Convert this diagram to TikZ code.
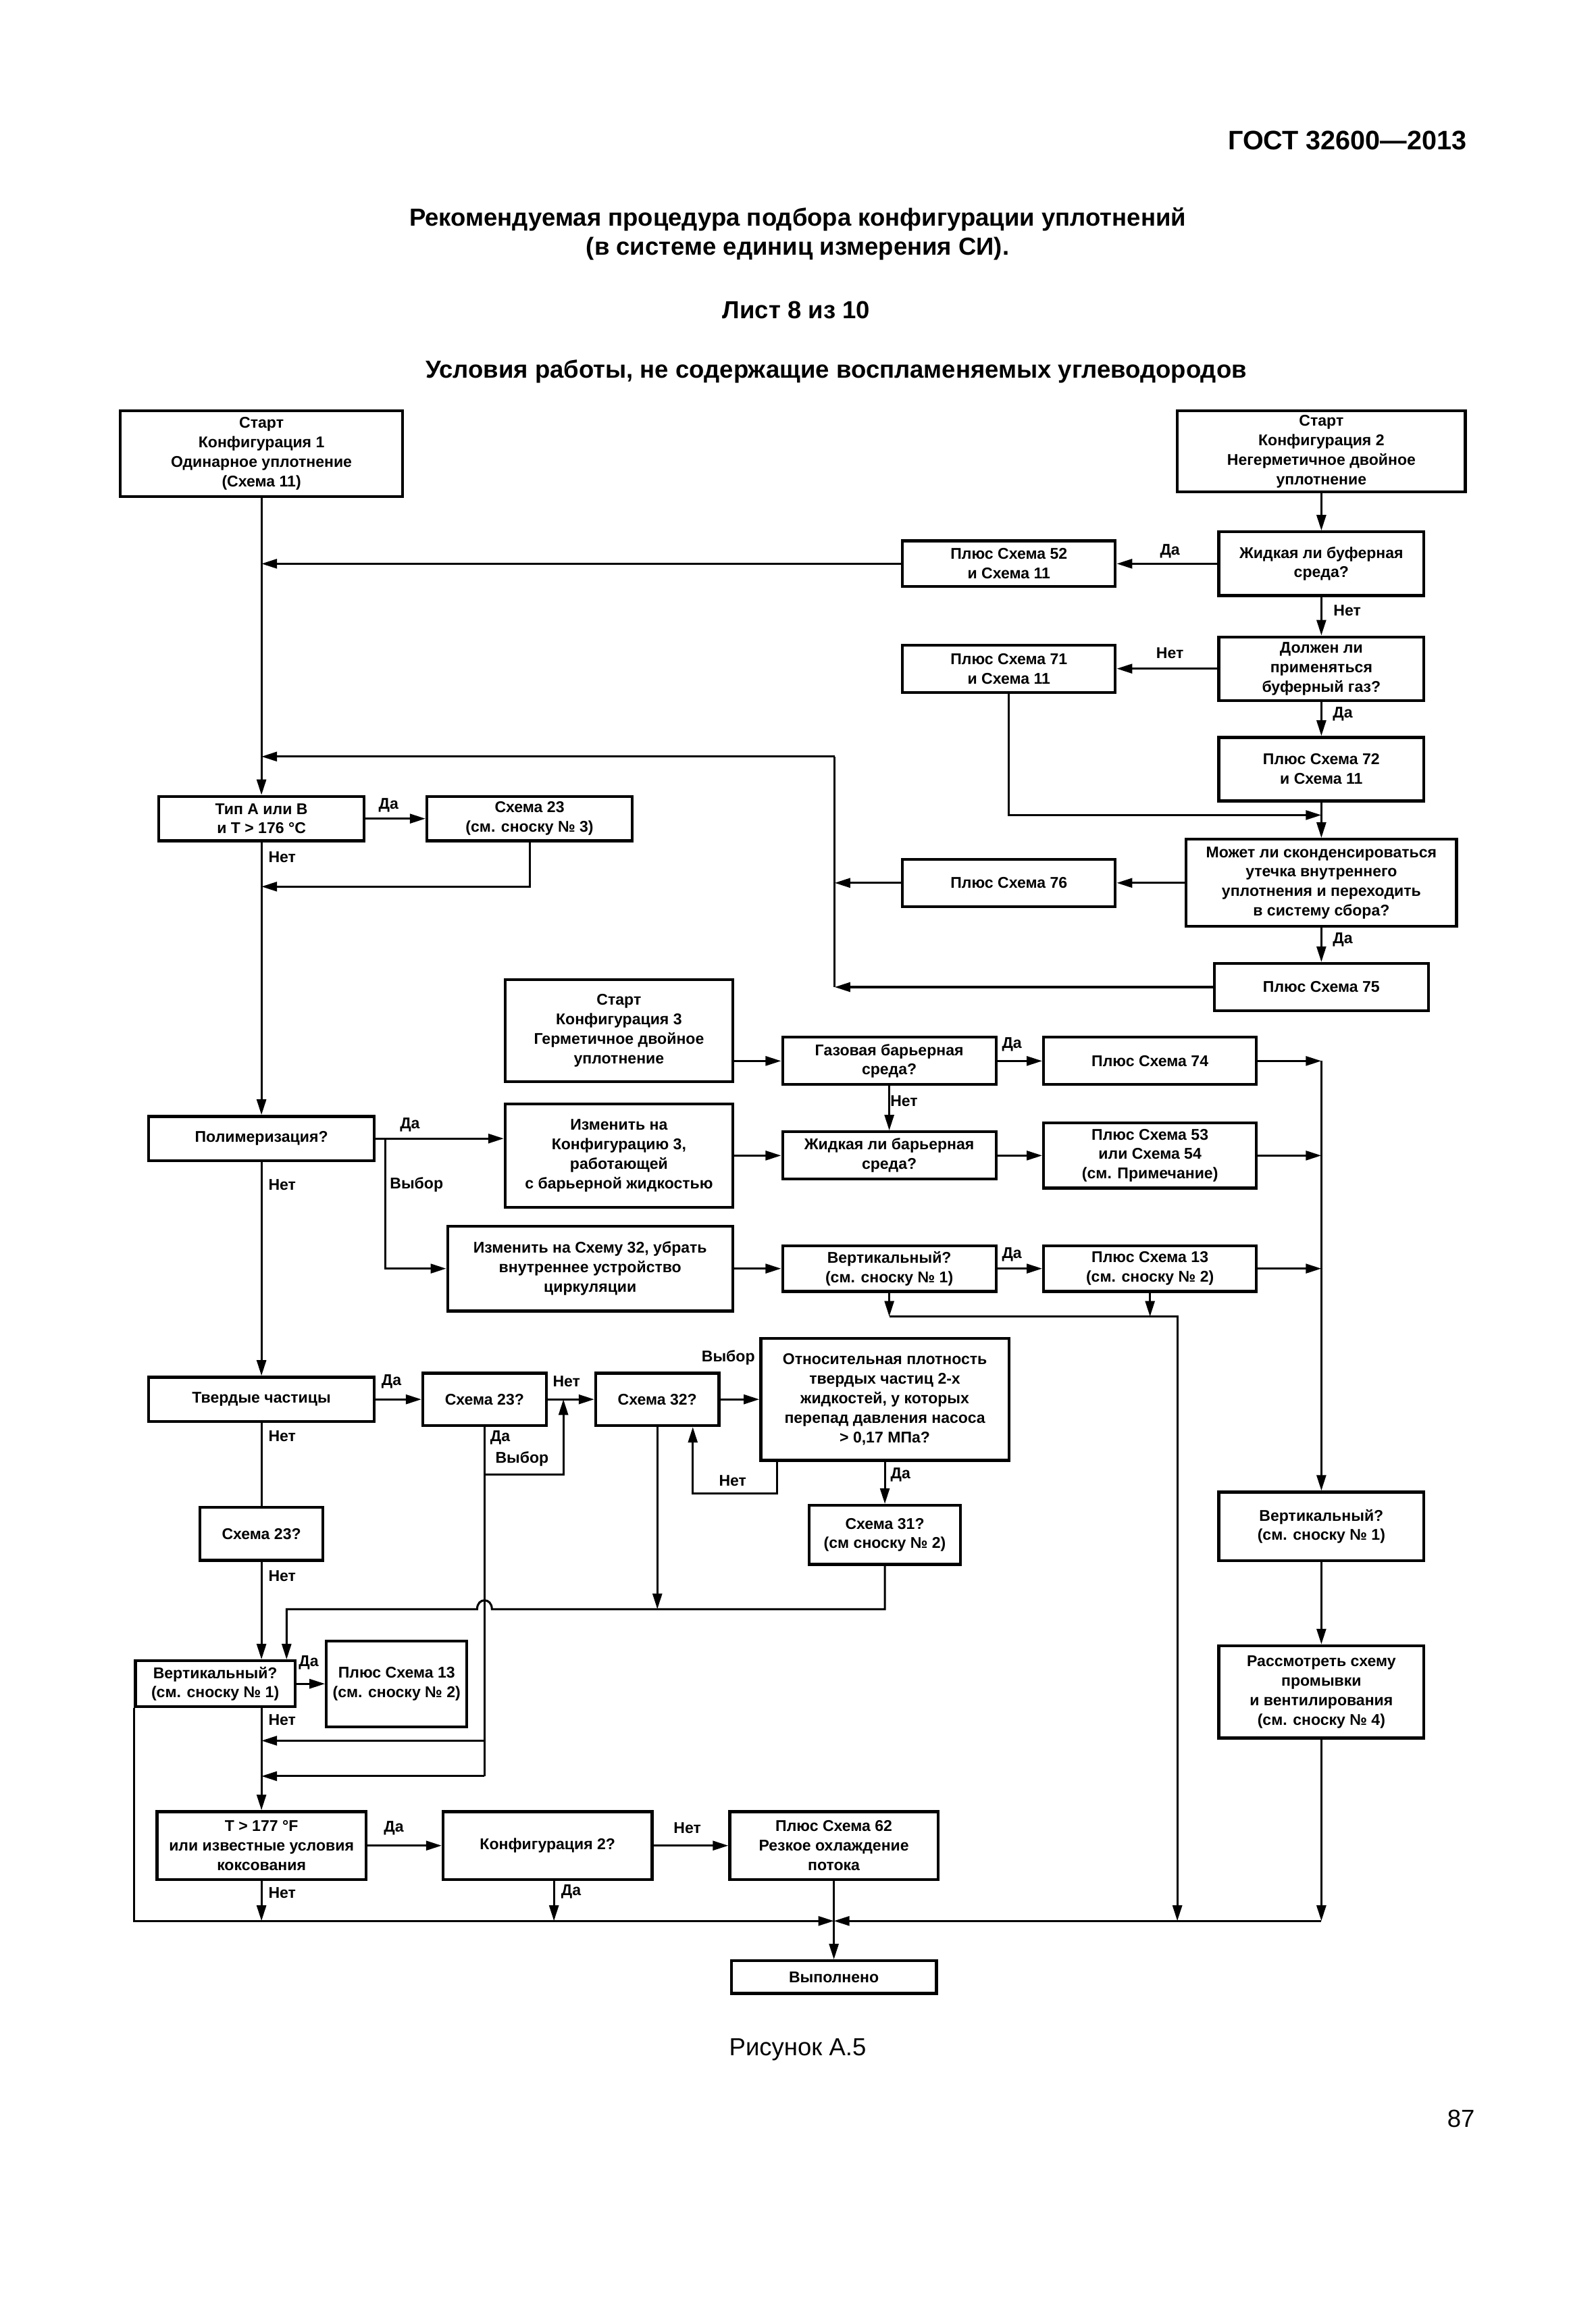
\documentclass[tikz,border=0pt]{standalone}
\usepackage{fontspec}
\setmainfont{Liberation Sans}
\usetikzlibrary{positioning,arrows,arrows.meta}
\newcommand{\flowfont}{\fontsize{6}{7.5}\selectfont\bfseries}

\begin{document}
\begin{tikzpicture}
[x=0.02cm, y=-0.02cm,
% The box style is used to draw the steps and the questions of the procedure
box/.style={rectangle, draw, line width=1.1pt, inner sep=1pt, align=center, font=\flowfont},
% The answer style is used to write Да, Нет and Выбор beside the connectors
answer/.style={inner sep=0pt, font=\flowfont},
% The line and arr styles are used to draw the connectors
line/.style={line width=0.8pt},
arr/.style={line width=0.8pt, -{Triangle[length=6pt,width=3.6pt]}}
]
\useasboundingbox (0,0) rectangle (1080,1566);
% Draw headings
\node[anchor=east, font=\fontsize{10.3}{12}\selectfont\bfseries] (gost) at (999,95) {ГОСТ 32600—2013};
\node[align=center, font=\fontsize{9.5}{11}\selectfont\bfseries] (title) at (540,158.3) {Рекомендуемая процедура подбора конфигурации уплотнений\\(в системе единиц измерения СИ).};
\node[font=\fontsize{9.5}{11}\selectfont\bfseries] (sheet) at (539,210) {Лист 8 из 10};
\node[font=\fontsize{9.5}{11}\selectfont\bfseries] (cond) at (566,251.5) {Условия работы, не содержащие воспламеняемых углеводородов};
\node[font=\fontsize{9.5}{11}\selectfont] (fig) at (540,1387) {Рисунок А.5};
\node[font=\fontsize{9.5}{11}\selectfont] (page) at (989,1434) {87};

% Draw boxes of configuration 1 and 2
\node[box, minimum width=3.82cm, minimum height=1.16cm] (start1) at (177,307) {Старт\\Конфигурация 1\\Одинарное уплотнение\\(Схема 11)};
\node[box, minimum width=3.9cm, minimum height=1.1cm] (start2) at (894.5,305.5) {Старт\\Конфигурация 2\\Негерметичное двойное\\уплотнение};
\node[box, minimum width=2.78cm, minimum height=0.86cm] (qbufliq) at (894.5,381.5) {Жидкая ли буферная\\среда?};
\node[box, minimum width=2.88cm, minimum height=0.62cm] (plus52) at (683,381.5) {Плюс Схема 52\\и Схема 11};
\node[box, minimum width=2.78cm, minimum height=0.86cm] (qbufgas) at (894.5,452.5) {Должен ли\\применяться\\буферный газ?};
\node[box, minimum width=2.88cm, minimum height=0.64cm] (plus71) at (683,452.5) {Плюс Схема 71\\и Схема 11};
\node[box, minimum width=2.78cm, minimum height=0.86cm] (plus72) at (894.5,520.5) {Плюс Схема 72\\и Схема 11};
\node[box, minimum width=3.66cm, minimum height=1.18cm] (qcond) at (894.5,597.5) {Может ли сконденсироваться\\утечка внутреннего\\уплотнения и переходить\\в систему сбора?};
\node[box, minimum width=2.88cm, minimum height=0.64cm] (plus76) at (683,597.5) {Плюс Схема 76};
\node[box, minimum width=2.9cm, minimum height=0.64cm] (plus75) at (894.5,668) {Плюс Схема 75};
\node[box, minimum width=2.78cm, minimum height=0.6cm] (typeab) at (177,554) {Тип А или В\\и Т > 176 °С};
\node[box, minimum width=2.78cm, minimum height=0.6cm] (s23a) at (358.5,554) {Схема 23\\(см. сноску № 3)};

% Draw boxes of configuration 3
\node[box, minimum width=3.08cm, minimum height=1.38cm] (start3) at (419,697.5) {Старт\\Конфигурация 3\\Герметичное двойное\\уплотнение};
\node[box, minimum width=2.89cm, minimum height=0.64cm] (qgasbar) at (602,718) {Газовая барьерная\\среда?};
\node[box, minimum width=2.88cm, minimum height=0.64cm] (plus74) at (778.5,718) {Плюс Схема 74};
\node[box, minimum width=3.08cm, minimum height=1.4cm] (change3) at (419,782) {Изменить на\\Конфигурацию 3,\\работающей\\с барьерной жидкостью};
\node[box, minimum width=2.89cm, minimum height=0.64cm] (qliqbar) at (602,782) {Жидкая ли барьерная\\среда?};
\node[box, minimum width=2.88cm, minimum height=0.88cm] (plus53) at (778.5,782) {Плюс Схема 53\\или Схема 54\\(см. Примечание)};
\node[box, minimum width=3.05cm, minimum height=0.6cm] (polym) at (177,770.5) {Полимеризация?};
\node[box, minimum width=3.86cm, minimum height=1.15cm] (change32) at (399.5,858.5) {Изменить на Схему 32, убрать\\внутреннее устройство\\циркуляции};
\node[box, minimum width=2.89cm, minimum height=0.62cm] (qvert1) at (602,858.5) {Вертикальный?\\(см. сноску № 1)};
\node[box, minimum width=2.88cm, minimum height=0.62cm] (plus13a) at (778.5,858.5) {Плюс Схема 13\\(см. сноску № 2)};

% Draw boxes of solid particles
\node[box, minimum width=3.05cm, minimum height=0.6cm] (solidp) at (177,947) {Твердые частицы};
\node[box, minimum width=1.67cm, minimum height=0.71cm] (q23b) at (328,947) {Схема 23?};
\node[box, minimum width=1.67cm, minimum height=0.71cm] (q32) at (445,947) {Схема 32?};
\node[box, minimum width=3.36cm, minimum height=1.65cm] (qdens) at (599,947) {Относительная плотность\\твердых частиц 2-х\\жидкостей, у которых\\перепад давления насоса\\> 0,17 МПа?};
\node[box, minimum width=2.05cm, minimum height=0.8cm] (q31) at (599,1038.7) {Схема 31?\\(см сноску № 2)};
\node[box, minimum width=1.66cm, minimum height=0.72cm] (s23c) at (177,1038) {Схема 23?};
\node[box, minimum width=2.16cm, minimum height=0.62cm] (vertb) at (145.7,1139.5) {Вертикальный?\\(см. сноску № 1)};
\node[box, minimum width=1.9cm, minimum height=1.16cm] (plus13b) at (268.5,1139.5) {Плюс Схема 13\\(см. сноску № 2)};
\node[box, minimum width=2.83cm, minimum height=0.92cm] (tempq) at (177,1249) {Т > 177 °F\\или известные условия\\коксования};
\node[box, minimum width=2.83cm, minimum height=0.92cm] (conf2q) at (370.7,1249) {Конфигурация 2?};
\node[box, minimum width=2.82cm, minimum height=0.92cm] (plus62) at (564.5,1249) {Плюс Схема 62\\Резкое охлаждение\\потока};
\node[box, minimum width=2.78cm, minimum height=0.44cm] (done) at (564.5,1338) {Выполнено};
\node[box, minimum width=2.78cm, minimum height=0.93cm] (vert2) at (894.5,1033) {Вертикальный?\\(см. сноску № 1)};
\node[box, minimum width=2.78cm, minimum height=1.25cm] (consider) at (894.5,1145) {Рассмотреть схему\\промывки\\и вентилирования\\(см. сноску № 4)};

% Junctions of the connectors
\coordinate (m72) at (894.5,551.6);
\coordinate (ctop) at (565,512);
\coordinate (cbot) at (565,668);
\coordinate (c76) at (565,597.5);
\coordinate (j600) at (177,600);
\coordinate (c74) at (894.5,718);
\coordinate (c53) at (894.5,782);
\coordinate (c13) at (894.5,858.5);
\coordinate (vy) at (260.7,770.5);
\coordinate (h891) at (602,891);
\coordinate (r891) at (797,891);
\coordinate (b797) at (797,1300);
\coordinate (d998) at (328,998);
\coordinate (u998) at (381.4,998);
\coordinate (dn1) at (526,1010.6);
\coordinate (dn2) at (469,1010.6);
\coordinate (q31b) at (599,1089);
\coordinate (hopr) at (333,1089);
\coordinate (hopl) at (323,1089);
\coordinate (cvb) at (194,1089);
\coordinate (q32b) at (445,1089);
\coordinate (v23a) at (328,1178);
\coordinate (v23) at (328,1202);
\coordinate (bc) at (564.5,1300);
\coordinate (br) at (894.5,1300);
\coordinate (t1300) at (177,1300);
\coordinate (c1300) at (375,1300);

% Draw connectors of configuration 1 and 2
\draw[arr] (start1.south) -- (typeab.north);
\draw[arr] (start2.south) -- (qbufliq.north);
\draw[arr] (qbufliq.west) -- (plus52.east);
\draw[arr] (plus52.west) -- (plus52.west -| start1.south);
\draw[arr] (qbufliq.south) -- (qbufgas.north);
\draw[arr] (qbufgas.west) -- (plus71.east);
\draw[arr] (qbufgas.south) -- (plus72.north);
\draw[arr] (plus71.south) |- (m72);
\draw[arr] (plus72.south) -- (qcond.north);
\draw[arr] (qcond.west) -- (plus76.east);
\draw[arr] (plus76.west) -- (c76);
\draw[arr] (qcond.south) -- (plus75.north);
\draw[arr] (plus75.west) -- (cbot);
\draw[line] (cbot) -- (ctop);
\draw[arr] (ctop) -- (ctop -| start1.south);
\draw[arr] (typeab.east) -- (s23a.west);
\draw[arr] (s23a.south) |- (j600);
\draw[arr] (typeab.south) -- (polym.north);

% Draw connectors of configuration 3
\draw[arr] (qgasbar.west -| start3.east) -- (qgasbar.west);
\draw[arr] (qgasbar.east) -- (plus74.west);
\draw[arr] (plus74.east) -- (c74);
\draw[arr] (c74) -- (vert2.north);
\draw[arr] (qgasbar.south) -- (qliqbar.north);
\draw[arr] (change3.east) -- (qliqbar.west);
\draw[arr] (qliqbar.east) -- (plus53.west);
\draw[arr] (plus53.east) -- (c53);
\draw[arr] (polym.east) -- (polym.east -| change3.west);
\draw[arr] (vy) |- (change32.west);
\draw[arr] (change32.east) -- (qvert1.west);
\draw[arr] (qvert1.east) -- (plus13a.west);
\draw[arr] (plus13a.east) -- (c13);
\draw[arr] (qvert1.south) -- (h891);
\draw[arr] (plus13a.south) -- (plus13a.south |- h891);
\draw[arr] (h891) -- (r891) -- (b797);

% Draw connectors of solid particles
\draw[arr] (polym.south) -- (solidp.north);
\draw[arr] (solidp.east) -- (q23b.west);
\draw[arr] (q23b.east) -- (q32.west);
\draw[arr] (q32.east) -- (qdens.west);
\draw[line] (q23b.south) -- (v23);
\draw[arr] (d998) -- (u998) -- (u998 |- q23b.east);
\draw[arr] (v23a) -- (v23a -| solidp.south);
\draw[arr] (v23) -- (v23 -| solidp.south);
\draw[arr] (qdens.south -| dn1) -- (dn1) -- (dn2) -- (dn2 |- q32.south);
\draw[arr] (qdens.south) -- (q31.north);
\draw[arr] (q31.south) -- (q31b) -- (hopr) .. controls (333,1081) and (323,1081) .. (hopl) -- (cvb) -- (cvb |- vertb.north);
\draw[arr] (q32.south) -- (q32b);
\draw[line] (solidp.south) -- (s23c.north);
\draw[arr] (s23c.south) -- (s23c.south |- vertb.north);
\draw[arr] (vertb.east) -- (plus13b.west);
\draw[arr] (vertb.south -| tempq.north) -- (tempq.north);
\draw[arr] (vertb.south west) |- (bc);
\draw[arr] (tempq.east) -- (conf2q.west);
\draw[arr] (conf2q.east) -- (plus62.west);
\draw[arr] (tempq.south) -- (t1300);
\draw[arr] (conf2q.south -| c1300) -- (c1300);
\draw[arr] (br) -- (bc);
\draw[arr] (plus62.south) -- (done.north);
\draw[arr] (vert2.south) -- (consider.north);
\draw[arr] (consider.south) -- (br);

% Draw answers
\node[answer] (a1) at (792,373) {Да};
\node[answer] (a2) at (912,413) {Нет};
\node[answer] (a3) at (792,442) {Нет};
\node[answer] (a4) at (909,483) {Да};
\node[answer] (a5) at (909,636) {Да};
\node[answer] (a6) at (263,545) {Да};
\node[answer] (a7) at (191,580) {Нет};
\node[answer] (a8) at (685,707) {Да};
\node[answer] (a9) at (612,745) {Нет};
\node[answer] (a10) at (277.5,761) {Да};
\node[answer] (a11) at (282,801.6) {Выбор};
\node[answer] (a12) at (191,802) {Нет};
\node[answer] (a13) at (685,849) {Да};
\node[answer] (a14) at (265,935) {Да};
\node[answer] (a15) at (383.5,935) {Нет};
\node[answer] (a16) at (493,918.6) {Выбор};
\node[answer] (a17) at (338.6,973) {Да};
\node[answer] (a18) at (353.4,987.5) {Выбор};
\node[answer] (a19) at (496,1002) {Нет};
\node[answer] (a20) at (609.6,998) {Да};
\node[answer] (a21) at (191,972) {Нет};
\node[answer] (a22) at (191,1066.6) {Нет};
\node[answer] (a23) at (209,1125) {Да};
\node[answer] (a24) at (191,1164) {Нет};
\node[answer] (a25) at (266.6,1237) {Да};
\node[answer] (a26) at (465.3,1237) {Нет};
\node[answer] (a27) at (191,1281) {Нет};
\node[answer] (a28) at (386.6,1280) {Да};
\end{tikzpicture}
\end{document}
